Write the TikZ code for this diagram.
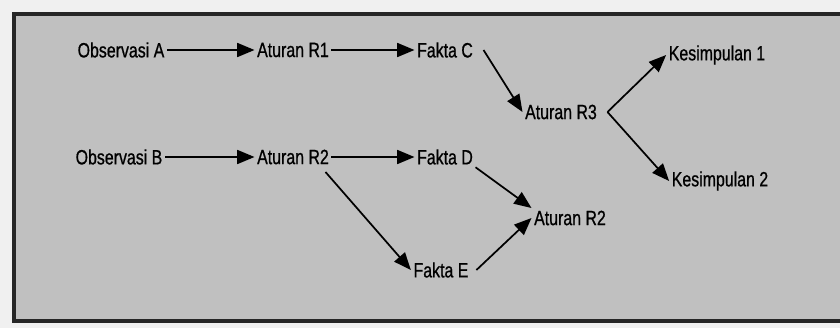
\documentclass[tikz,border=0pt]{standalone}
\usepackage{fontspec}
\setmainfont{Liberation Sans}[FakeStretch=0.77,FakeBold=0.8]
\usepackage{tikz}
\usetikzlibrary{arrows.meta}

\definecolor{panel}{RGB}{192,192,192}
\definecolor{paper}{RGB}{240,240,240}

\tikzset{
  fact/.style={inner sep=2pt,outer sep=0pt,font=\fontsize{15.5}{17}\selectfont},
  infer/.style={line width=1.3pt,-{Triangle[length=13pt,width=10.5pt]}}
}

\begin{document}
\begin{tikzpicture}[x=0.75pt,y=-0.75pt]
\useasboundingbox (0,0) rectangle (840,328);
\fill[paper] (0,0) rectangle (840,328);
\fill[panel] (14,14) rectangle (840,321);
\draw[line width=2.6pt,black!85] (846,14) -- (14,14) -- (14,321) -- (846,321);

% first chain
\node[fact] (obsA) at (121,50) {Observasi A};
\node[fact] (ruleA) at (293,50) {Aturan R1};
\node[fact] (factC) at (445,50) {Fakta C};
\node[fact] (ruleC) at (561,112) {Aturan R3};
\node[fact] (concl1) at (717,55) {Kesimpulan 1};
\node[fact] (concl2) at (720,181) {Kesimpulan 2};

% second chain
\node[fact] (obsB) at (119,157) {Observasi B};
\node[fact] (ruleB) at (293,157) {Aturan R2};
\node[fact] (factD) at (445,157) {Fakta D};
\node[fact] (factE) at (441,270) {Fakta E};
\node[fact] (ruleD) at (570,218) {Aturan R2};

\draw[infer] (obsA.east) -- (ruleA.west);
\draw[infer] (ruleA.east) -- (factC.west);
\draw[infer] ([xshift=6]factC.east) -- (ruleC.west);
\draw[infer] ([xshift=6]ruleC.east) -- (concl1.west);
\draw[infer] ([xshift=6]ruleC.east) -- (concl2.west);

\draw[infer] (obsB.east) -- (ruleB.west);
\draw[infer] (ruleB.east) -- (factD.west);
\draw[infer] ([shift={(-6,5)}]ruleB.south east) -- (factE.west);
\draw[infer] (factD.south east) -- (ruleD.north west);
\draw[infer] ([xshift=4]factE.east) -- (ruleD.west);
\end{tikzpicture}
\end{document}
